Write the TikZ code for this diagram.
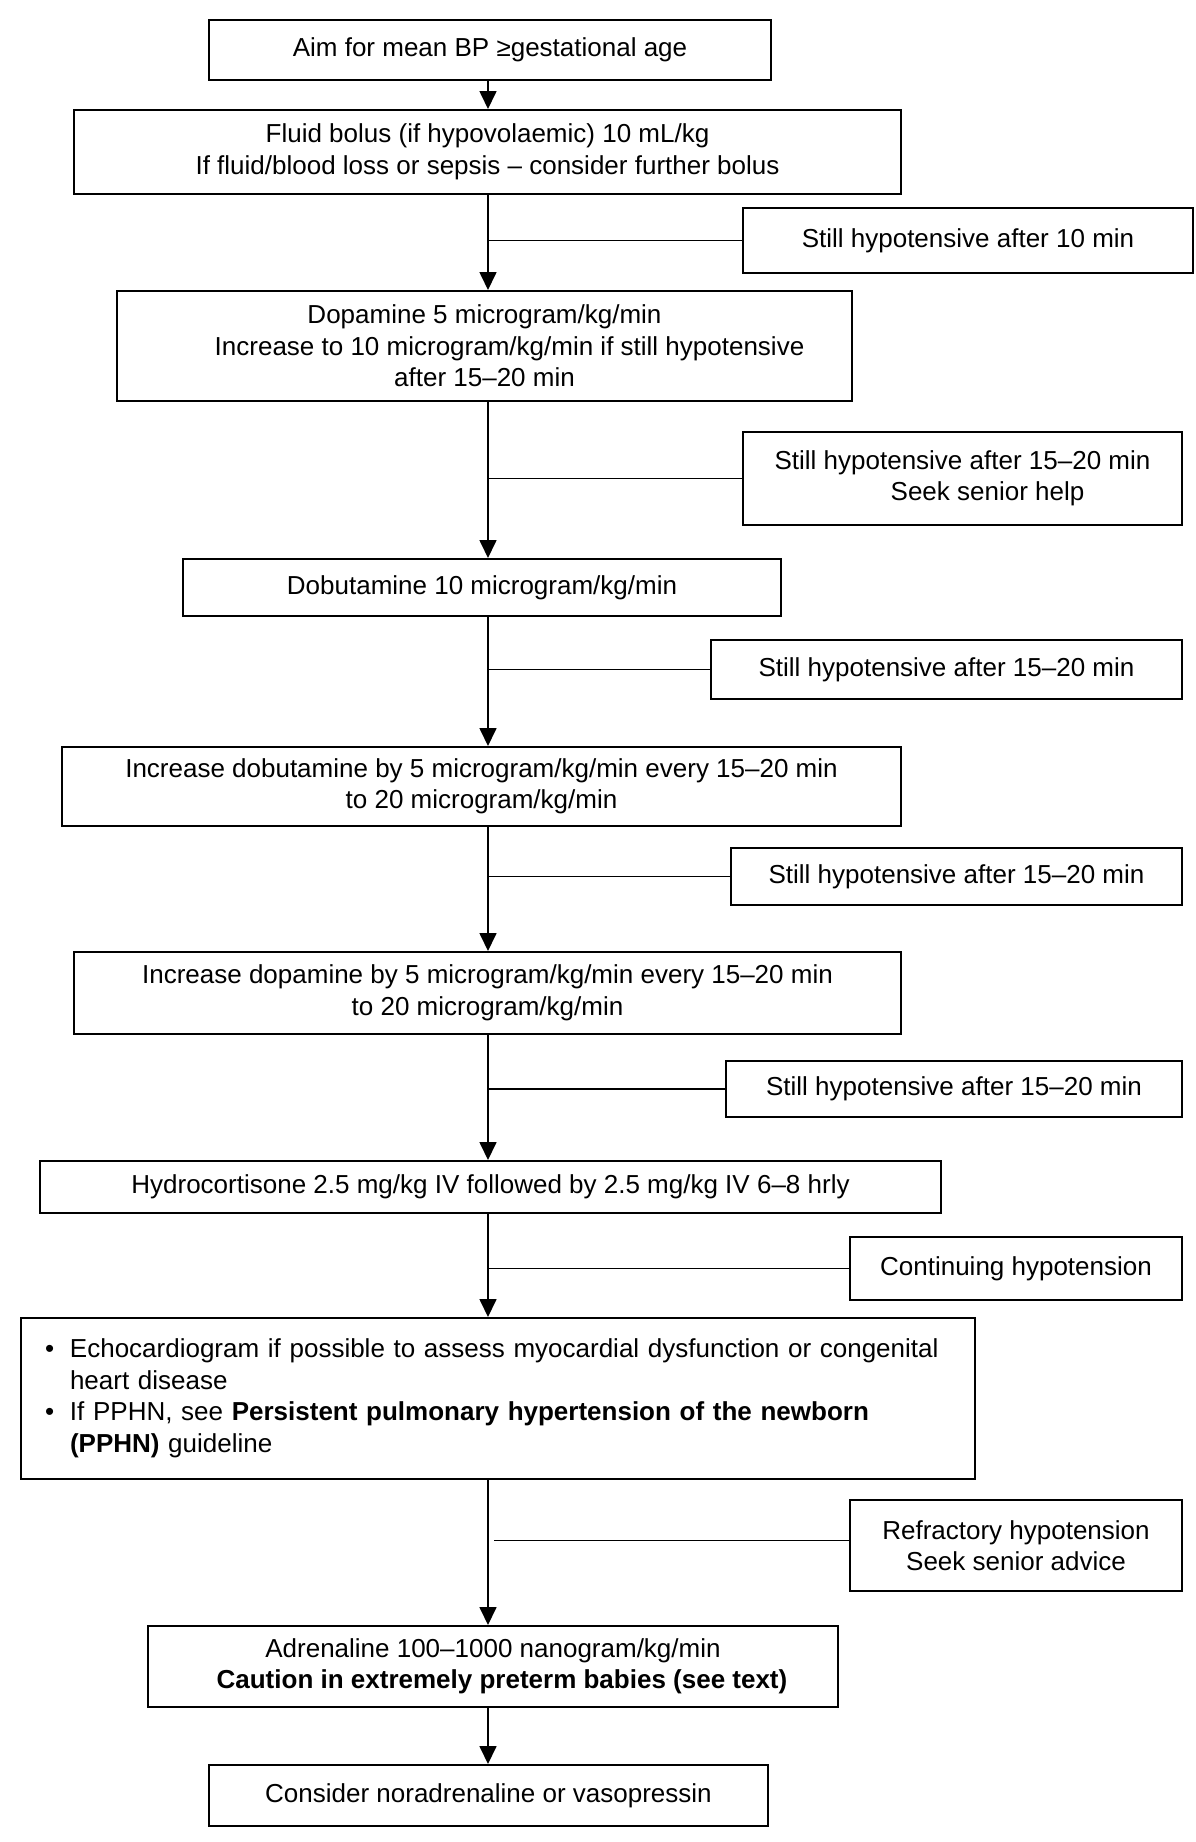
\documentclass[tikz,border=0pt]{standalone}
\usepackage{fontspec}
\setmainfont{Liberation Sans}
\usetikzlibrary{arrows.meta}
\begin{document}
\begin{tikzpicture}[x=1pt,y=-1pt,
  box/.style={draw, line width=2pt, rectangle, align=center, inner sep=2pt,
    font=\fontsize{26}{31.5}\selectfont},
  link/.style={line width=1.7pt},
  arr/.style={link, -{Triangle[length=18pt,width=17pt]}}]
\useasboundingbox (0,0) rectangle (1196,1842);
\coordinate (sp) at (488,0);

\node[box, minimum width=562pt, minimum height=60pt] (b1) at (490,50)
  {Aim for mean BP ≥gestational age};
\node[box, minimum width=827pt, minimum height=84pt] (b2) at (487.5,152)
  {Fluid bolus (if hypovolaemic) 10 mL/kg\\If fluid/blood loss or sepsis – consider further bolus};
\node[box, minimum width=450pt, minimum height=65pt] (s1) at (968,240.5)
  {Still hypotensive after 10 min};
\node[box, minimum width=735pt, minimum height=110pt] (b3) at (484.5,346)
  {Dopamine 5 microgram/kg/min\\\hspace*{50pt}Increase to 10 microgram/kg/min if still hypotensive\\after 15–20 min};
\node[box, minimum width=439pt, minimum height=93pt] (s2) at (962.5,478.5)
  {Still hypotensive after 15–20 min\\\hspace*{50pt}Seek senior help};
\node[box, minimum width=598pt, minimum height=57pt] (b4) at (482,587.5)
  {Dobutamine 10 microgram/kg/min};
\node[box, minimum width=471pt, minimum height=59pt] (s3) at (946.5,669.5)
  {Still hypotensive after 15–20 min};
\node[box, minimum width=839pt, minimum height=79pt] (b5) at (481.5,786.5)
  {Increase dobutamine by 5 microgram/kg/min every 15–20 min\\to 20 microgram/kg/min};
\node[box, minimum width=451pt, minimum height=57pt] (s4) at (956.5,876.5)
  {Still hypotensive after 15–20 min};
\node[box, minimum width=827pt, minimum height=82pt] (b6) at (487.5,993)
  {Increase dopamine by 5 microgram/kg/min every 15–20 min\\to 20 microgram/kg/min};
\node[box, minimum width=456pt, minimum height=56pt] (s5) at (954,1089)
  {Still hypotensive after 15–20 min};
\node[box, minimum width=901pt, minimum height=52pt] (b7) at (490.5,1187)
  {Hydrocortisone 2.5 mg/kg IV followed by 2.5 mg/kg IV 6–8 hrly};
\node[box, minimum width=332pt, minimum height=63pt] (s6) at (1016,1268.5)
  {Continuing hypotension};
\node[box, minimum width=954pt, minimum height=161pt, align=left, text width=906pt, inner xsep=22pt] (b8) at (498,1398.5)
  {\makebox[25pt][l]{•}Echocardiogram if possible to assess myocardial dysfunction or congenital\\
   \hspace*{25pt}heart disease\\
   \makebox[25pt][l]{•}If PPHN, see \textbf{Persistent pulmonary hypertension of the newborn}\\
   \hspace*{25pt}\textbf{(PPHN)} guideline};
\node[box, minimum width=332pt, minimum height=91pt] (s7) at (1016,1545.5)
  {Refractory hypotension\\Seek senior advice};
\node[box, minimum width=690pt, minimum height=81pt] (b9) at (493,1666.5)
  {Adrenaline 100–1000 nanogram/kg/min\\\hspace*{18pt}\textbf{Caution in extremely preterm babies (see text)}};
\node[box, minimum width=559pt, minimum height=61pt] (b10) at (488.5,1795.5)
  {Consider noradrenaline or vasopressin};

\draw[arr] (b1.south -| sp) -- (b2.north -| sp);
\draw[arr] (b2.south -| sp) -- (b3.north -| sp);
\draw[arr] (b3.south -| sp) -- (b4.north -| sp);
\draw[arr] (b4.south -| sp) -- (b5.north -| sp);
\draw[arr] (b5.south -| sp) -- (b6.north -| sp);
\draw[arr] (b6.south -| sp) -- (b7.north -| sp);
\draw[arr] (b7.south -| sp) -- (b8.north -| sp);
\draw[arr] (b8.south -| sp) -- (b9.north -| sp);
\draw[arr] (b9.south -| sp) -- (b10.north -| sp);

\draw[link] (s1.west) -- (s1.west -| sp);
\draw[link] (s2.west) -- (s2.west -| sp);
\draw[link] (s3.west) -- (s3.west -| sp);
\draw[link] (s4.west) -- (s4.west -| sp);
\draw[link] (s5.west) -- (s5.west -| sp);
\draw[link] (s6.west) -- (s6.west -| sp);
\coordinate (g7) at ([xshift=6pt]s7.west -| sp);
\draw[link] ([yshift=5pt]s7.west) -- ([yshift=5pt]g7);
\end{tikzpicture}
\end{document}
